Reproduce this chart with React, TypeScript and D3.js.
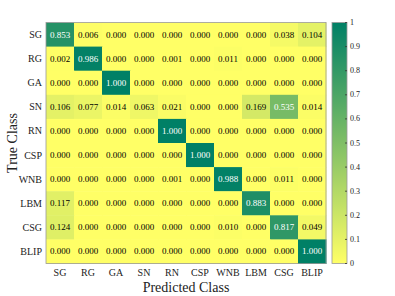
import React from "react";
import * as d3 from "d3";

const classes = ["SG", "RG", "GA", "SN", "RN", "CSP", "WNB", "LBM", "CSG", "BLIP"];
const rowSG = [0.853, 0.006, 0.0, 0.0, 0.0, 0.0, 0.0, 0.0, 0.038, 0.104];
const rowRG = [0.002, 0.986, 0.0, 0.0, 0.001, 0.0, 0.011, 0.0, 0.0, 0.0];
const rowGA = [0.0, 0.0, 1.0, 0.0, 0.0, 0.0, 0.0, 0.0, 0.0, 0.0];
const rowSN = [0.106, 0.077, 0.014, 0.063, 0.021, 0.0, 0.0, 0.169, 0.535, 0.014];
const rowRN = [0.0, 0.0, 0.0, 0.0, 1.0, 0.0, 0.0, 0.0, 0.0, 0.0];
const rowCSP = [0.0, 0.0, 0.0, 0.0, 0.0, 1.0, 0.0, 0.0, 0.0, 0.0];
const rowWNB = [0.0, 0.0, 0.0, 0.0, 0.001, 0.0, 0.988, 0.0, 0.011, 0.0];
const rowLBM = [0.117, 0.0, 0.0, 0.0, 0.0, 0.0, 0.0, 0.883, 0.0, 0.0];
const rowCSG = [0.124, 0.0, 0.0, 0.0, 0.0, 0.0, 0.01, 0.0, 0.817, 0.049];
const rowBLIP = [0.0, 0.0, 0.0, 0.0, 0.0, 0.0, 0.0, 0.0, 0.0, 1.0];
const matrix = [rowSG, rowRG, rowGA, rowSN, rowRN, rowCSP, rowWNB, rowLBM, rowCSG, rowBLIP];
const colorbarTicks = [0, 0.1, 0.2, 0.3, 0.4, 0.5, 0.6, 0.7, 0.8, 0.9, 1];

// reversed "summer" colormap: 0 -> yellow, 1 -> dark green
const color = (v: number) => {
  const t = 1 - v;
  return d3.rgb(255 * t, 255 * (0.5 + 0.5 * t), 0.4 * 255).toString();
};

const font = '"Liberation Serif", "Times New Roman", "DejaVu Serif", serif';

export default function App() {
  const W = 395, H = 296;
  const left = 46, right = 326, top = 22.5, bottom = 263.5;
  const x = d3.scaleBand<string>().domain(classes).range([left, right]);
  const y = d3.scaleBand<string>().domain(classes).range([top, bottom]);
  const cbX = 332, cbW = 15;
  const cy = d3.scaleLinear().domain([0, 1]).range([bottom, top]);
  const stops = d3.range(0, 1.0001, 0.05);
  const ts = { fontFamily: font };
  return (
    <svg width={W} height={H} style={{ position: "absolute", left: 0, top: 0, background: "#fff", fontFamily: font }}>
      <defs>
        <linearGradient id="cb" x1="0" y1="1" x2="0" y2="0">
          {stops.map((s) => (
            <stop key={s} offset={s} stopColor={color(s)} />
          ))}
        </linearGradient>
      </defs>
      {matrix.map((row, i) =>
        row.map((v, j) => (
          <g key={`${i}-${j}`}>
            <rect
              x={x(classes[j])!}
              y={y(classes[i])!}
              width={x.bandwidth() + 0.5}
              height={y.bandwidth() + 0.5}
              fill={color(v)}
            />
            <text
              x={x(classes[j])! + x.bandwidth() / 2}
              y={y(classes[i])! + y.bandwidth() / 2}
              textAnchor="middle"
              dominantBaseline="central"
              fontSize={9}
              style={ts}
              fill={v > 0.5 ? "#fff" : "#000"}
            >
              {v.toFixed(3)}
            </text>
          </g>
        ))
      )}
      <rect x={left} y={top} width={right - left} height={bottom - top} fill="none" stroke="#999" strokeWidth={0.8} />
      {classes.map((c) => (
        <text key={"y" + c} x={left - 4} y={y(c)! + y.bandwidth() / 2} textAnchor="end" dominantBaseline="central" fontSize={10} fill="#222" style={ts}>
          {c}
        </text>
      ))}
      {classes.map((c) => (
        <text key={"x" + c} x={x(c)! + x.bandwidth() / 2} y={272} textAnchor="middle" dominantBaseline="central" fontSize={10} fill="#222" style={ts}>
          {c}
        </text>
      ))}
      <text x={(left + right) / 2} y={287} textAnchor="middle" dominantBaseline="central" fontSize={14} fill="#222" style={ts}>
        Predicted Class
      </text>
      <text transform={`translate(12, ${(top + bottom) / 2}) rotate(-90)`} textAnchor="middle" dominantBaseline="central" fontSize={14} fill="#222" style={ts}>
        True Class
      </text>
      <rect x={cbX} y={top} width={cbW} height={bottom - top} fill="url(#cb)" stroke="#999" strokeWidth={0.8} />
      {colorbarTicks.map((t) => (
        <g key={"cb" + t}>
          <line x1={cbX + cbW - 2} x2={cbX + cbW} y1={cy(t)} y2={cy(t)} stroke="#333" strokeWidth={0.8} />
          <text x={cbX + cbW + 3} y={cy(t)} dominantBaseline="central" fontSize={8} fill="#222" style={ts}>
            {d3.format("~g")(t)}
          </text>
        </g>
      ))}
    </svg>
  );
}
